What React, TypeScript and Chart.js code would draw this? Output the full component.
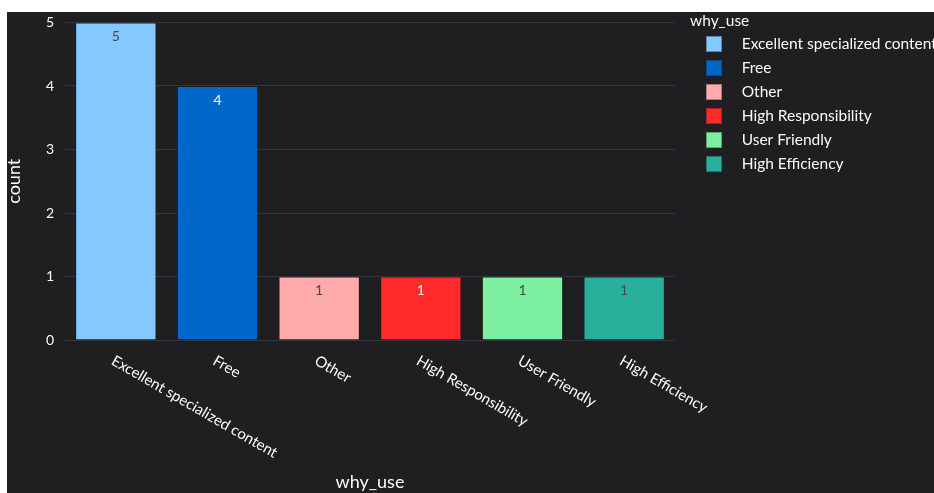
import React, { useEffect, useRef } from "react";
import { Chart, registerables } from "chart.js";

Chart.register(...registerables);

const categories = [
  "Excellent specialized content",
  "Free",
  "Other",
  "High Responsibility",
  "User Friendly",
  "High Efficiency",
];
const counts = [5, 4, 1, 1, 1, 1];
const barColors = ["#83C9FF", "#0068C9", "#FFABAB", "#FF2B2B", "#7DEFA1", "#29B09D"];
const yTicks = [0, 1, 2, 3, 4, 5];
const xTitle = "why_use";
const yTitle = "count";
const legendTitle = "why_use";

const FONT = "Lato, 'Noto Sans', sans-serif";
const BG = "#1f1f22";
const TEXT = "#fafafa";
const GRID = "#33353f";

function lum(hex: string) {
  const n = parseInt(hex.slice(1), 16);
  const c = [(n >> 16) & 255, (n >> 8) & 255, n & 255].map((v) => {
    const s = v / 255;
    return s <= 0.03928 ? s / 12.92 : Math.pow((s + 0.055) / 1.055, 2.4);
  });
  return 0.2126 * c[0] + 0.7152 * c[1] + 0.0722 * c[2];
}

const valueLabels = {
  id: "valueLabels",
  afterDatasetsDraw(chart: any) {
    const ctx = chart.ctx;
    const meta = chart.getDatasetMeta(0);
    ctx.save();
    ctx.font = `14px ${FONT}`;
    ctx.textAlign = "center";
    ctx.textBaseline = "middle";
    meta.data.forEach((bar: any, i: number) => {
      const { x, y } = bar.getProps(["x", "y"], true);
      ctx.fillStyle = lum(barColors[i]) < 0.3 ? "#ffffff" : "#464a52";
      ctx.fillText(String(counts[i]), x, y + 14);
    });
    ctx.restore();
  },
};

const xLabels = {
  id: "xLabels",
  afterDraw(chart: any) {
    const xs = chart.scales.x;
    const ctx = chart.ctx;
    ctx.save();
    ctx.font = `15px ${FONT}`;
    ctx.fillStyle = TEXT;
    ctx.textAlign = "left";
    ctx.textBaseline = "top";
    categories.forEach((c, i) => {
      const x = xs.getPixelForTick(i);
      ctx.save();
      ctx.translate(x + 0.5, xs.top + 13);
      ctx.rotate(Math.PI / 6);
      ctx.fillText(c, 0, 0);
      ctx.restore();
    });
    ctx.restore();
  },
};

const sideLegend = {
  id: "sideLegend",
  afterDraw(chart: any) {
    const ctx = chart.ctx;
    const { right, top } = chart.chartArea;
    ctx.save();
    ctx.font = `15.5px ${FONT}`;
    ctx.textAlign = "left";
    ctx.textBaseline = "middle";
    ctx.fillStyle = TEXT;
    ctx.fillText(legendTitle, right + 15, top - 1.5);
    categories.forEach((c, i) => {
      const cy = top + 21.5 + 24 * i;
      ctx.fillStyle = barColors[i];
      ctx.fillRect(right + 31, cy - 8, 16, 16);
      ctx.strokeStyle = "rgba(20,20,24,0.35)";
      ctx.lineWidth = 1;
      ctx.strokeRect(right + 31.5, cy - 7.5, 15, 15);
      ctx.fillStyle = TEXT;
      ctx.fillText(c, right + 66.7, cy);
    });
    ctx.restore();
  },
};

export default function App() {
  const ref = useRef<HTMLCanvasElement>(null);
  useEffect(() => {
    if (!ref.current) return;
    const chart = new Chart(ref.current, {
      type: "bar",
      data: {
        labels: categories,
        datasets: [
          {
            label: "count",
            data: counts,
            backgroundColor: barColors,
            borderColor: "rgba(20,20,24,0.35)",
            borderWidth: 1,
            barPercentage: 0.8,
            categoryPercentage: 1,
          },
        ],
      },
      options: {
        responsive: false,
        animation: false,
        devicePixelRatio: 1,
        layout: { padding: { left: 0, top: 10.5, right: 332, bottom: 0 }, autoPadding: false } as any,
        plugins: { legend: { display: false }, tooltip: { enabled: false } },
        scales: {
          x: {
            grid: { display: false },
            border: { display: false },
            ticks: { display: false },
            title: {
              display: true,
              text: xTitle,
              color: TEXT,
              font: { family: FONT, size: 18 },
              padding: { top: 0, bottom: 0.5 },
            },
            afterFit(s: any) {
              s.height = 153;
              s.paddingLeft = 0;
              s.paddingRight = 0;
            },
          },
          y: {
            min: 0,
            max: 5,
            afterBuildTicks(s: any) {
              s.ticks = yTicks.map((v) => ({ value: v }));
            },
            ticks: { color: TEXT, font: { family: FONT, size: 14 }, padding: 11 },
            grid: { color: GRID, drawTicks: false, lineWidth: 1 },
            border: { display: false },
            title: {
              display: true,
              text: yTitle,
              color: TEXT,
              font: { family: FONT, size: 18, lineHeight: 0.78 },
              padding: 0,
            },
            afterFit(s: any) {
              s.width = 58;
              s.paddingTop = 0;
              s.paddingBottom = 0;
            },
          },
        },
      } as any,
      plugins: [valueLabels, xLabels, sideLegend],
    });
    return () => chart.destroy();
  }, []);
  return (
    <div
      style={{
        position: "absolute",
        left: 7,
        top: 12,
        width: 927,
        height: 481,
        overflow: "hidden",
        background: BG,
      }}
    >
      <canvas ref={ref} width={1000} height={481} style={{ display: "block" }} />
    </div>
  );
}
